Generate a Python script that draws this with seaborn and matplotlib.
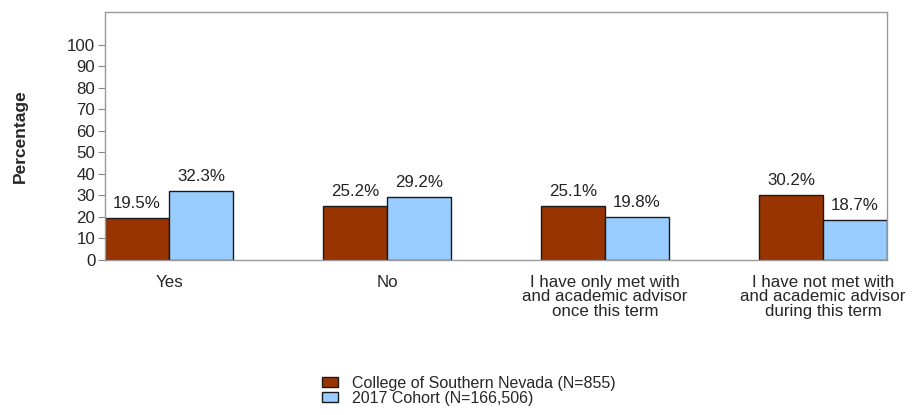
import pandas as pd
import seaborn as sns
import matplotlib.pyplot as plt

categories = ['Yes', 'No',
              'I have only met with\nand academic advisor\nonce this term',
              'I have not met with\nand academic advisor\nduring this term']
series = ['College of Southern Nevada (N=855)', '2017 Cohort (N=166,506)']
csn_values = [19.5, 25.2, 25.1, 30.2]
cohort_values = [32.3, 29.2, 19.8, 18.7]
colors = ['#993300', '#99CCFF']

df = pd.DataFrame({
    'category': categories * 2,
    'group': [series[0]] * 4 + [series[1]] * 4,
    'value': csn_values + cohort_values,
})

sns.set_style('white')
plt.rcParams['font.family'] = ['Liberation Sans', 'DejaVu Sans']
fs = 12.2

fig = plt.figure(figsize=(9.14, 4.15), dpi=100)
ax = fig.add_axes([0.1149, 0.3735, 0.8556, 0.5975])
sns.barplot(data=df, x='category', y='value', hue='group', order=categories,
            hue_order=series, palette=colors, width=0.587,
            edgecolor='#1a1a1a', linewidth=1.0, saturation=1, ax=ax)

for cont in ax.containers:
    ax.bar_label(cont, labels=['%.1f%%' % v for v in cont.datavalues],
                 padding=5, fontsize=fs, color='#222222')

ax.set_xlim(-0.2935, 3.2935)
ax.set_ylim(0, 115.3)
ax.set_yticks(range(0, 101, 10))
ax.tick_params(axis='y', labelsize=fs, length=5, width=0.8, color='#888888',
               left=True, pad=2)
ax.tick_params(axis='x', labelsize=fs, bottom=False, pad=7)
for lab in ax.get_xticklabels():
    lab.set_linespacing(0.98)
ax.set_xlabel('')
ax.set_ylabel('Percentage', fontsize=12.5, fontweight='bold', labelpad=28)
for sp in ax.spines.values():
    sp.set_color('#999999')
    sp.set_linewidth(1.0)

handles, labels = ax.get_legend_handles_labels()
ax.get_legend().remove()
fig.legend(handles, labels, loc='upper left', bbox_to_anchor=(0.345, 0.11),
           frameon=False, fontsize=11.5, handlelength=1.0, handleheight=0.55,
           labelspacing=0.0, handletextpad=0.9, borderaxespad=0)

plt.savefig('out.png', dpi=100)
